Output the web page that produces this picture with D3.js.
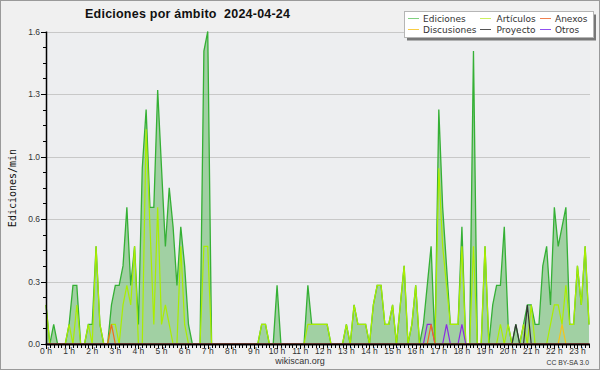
<!DOCTYPE html>
<html><head><meta charset="utf-8">
<script src="https://cdn.jsdelivr.net/npm/d3@7"></script>
<style>body{margin:0;background:#fff}svg{display:block}</style>
</head><body><svg id="c" width="600" height="370"></svg>
<script>
const title = "Ediciones por ámbito  2024-04-24";
const yTitle = "Ediciones/min";
const footerCenter = "wikiscan.org";
const footerRight = "CC BY-SA 3.0";
const binMinutes = 10;
const hourLabels = ["0 h","1 h","2 h","3 h","4 h","5 h","6 h","7 h","8 h","9 h","10 h","11 h","12 h","13 h","14 h","15 h","16 h","17 h","18 h","19 h","20 h","21 h","22 h","23 h"];
const yTickValues = [0, 0.32, 0.64, 0.96, 1.28, 1.6];
const yTickLabels = ["0.0","0.3","0.6","1.0","1.3","1.6"];
const seriesNames = ["Ediciones","Artículos","Anexos","Discusiones","Proyecto","Otros"];
const seriesColors = ["#35b035","#aaee00","#f26a1b","#f5c518","#333333","#8a2be2"];
const legendColors = ["#80d080","#ccf060","#f08050","#f8cc44","#555555","#9050f0"];

const ediciones = [0.2,0,0.1,0,0,0,0.1,0.3,0.3,0,
  0,0.1,0.1,0.5,0.1,0,0,0.2,0.3,0.3,
  0.4,0.7,0.3,0.5,0.1,0.9,1.2,0.7,0.7,1.3,
  0.9,0.5,0.8,0.6,0.3,0.6,0.4,0.1,0,0,
  0,1.5,1.6,0,0,0,0,0,0,0,
  0,0,0,0,0,0,0.1,0.1,0,0,
  0.3,0,0,0,0,0,0,0,0.3,0.1,
  0.1,0.1,0.1,0.1,0,0,0,0,0.1,0,
  0.2,0.1,0.1,0.1,0,0.2,0.3,0.3,0.1,0.1,
  0.2,0,0.2,0.4,0,0.1,0.3,0,0.1,0.3,
  0.5,0,1.2,0.7,0.4,0.1,0.1,0.1,0.6,0,
  0,1.5,0,0,0.5,0,0.2,0.3,0.3,0.6,
  0.1,0,0.1,0,0.1,0.2,0.2,0.1,0.1,0.4,
  0.5,0.2,0.7,0.5,0.6,0.7,0.1,0.1,0.4,0.2,
  0.5,0.1];
const articulos = [0.2,0,0,0,0,0,0.1,0,0.2,0,
  0,0.1,0,0.5,0.1,0,0,0.1,0.1,0,
  0.2,0.3,0.2,0.5,0,0,1.1,0.6,0.1,0.7,
  0.1,0.2,0.1,0,0,0.5,0.1,0,0,0,
  0,0.5,0.5,0,0,0,0,0,0,0,
  0,0,0,0,0,0,0.1,0.1,0,0,
  0,0,0,0,0,0,0,0,0.1,0.1,
  0.1,0.1,0.1,0.1,0,0,0,0,0.1,0,
  0.2,0.1,0.1,0.1,0,0.2,0.3,0.3,0.1,0.1,
  0.2,0,0.2,0.4,0,0.1,0.3,0,0,0,
  0,0,0.9,0.5,0.3,0.1,0.1,0.1,0.5,0,
  0,0.5,0,0,0.5,0,0,0,0.1,0,
  0.1,0,0,0,0.1,0,0.2,0,0,0,
  0,0.1,0.2,0.2,0.1,0.3,0.1,0.1,0.4,0.2,
  0.5,0.1];
const anexos = [0,0,0,0,0,0,0,0,0,0,
  0,0,0,0,0,0,0,0.1,0,0,
  0,0,0,0,0,0,0,0,0,0,
  0,0,0,0,0,0,0,0,0,0,
  0,0,0,0,0,0,0,0,0,0,
  0,0,0,0,0,0,0,0,0,0,
  0,0,0,0,0,0,0,0,0,0,
  0,0,0,0,0,0,0,0,0,0,
  0,0,0,0,0,0,0,0,0,0,
  0,0,0,0,0,0,0,0,0,0,
  0.1,0,0,0,0,0,0,0,0,0,
  0,0,0,0,0,0,0,0,0,0,
  0,0,0,0,0,0,0,0,0,0,
  0,0,0,0,0,0,0,0,0,0,
  0,0];
const discusiones = [0,0,0,0,0,0,0,0,0,0,
  0,0,0,0,0,0,0,0,0,0,
  0,0,0,0,0,0,0,0,0,0,
  0,0,0,0,0,0,0,0,0,0,
  0,0,0,0,0,0,0,0,0,0,
  0,0,0,0,0,0,0,0,0,0,
  0,0,0,0,0,0,0,0,0,0,
  0,0,0,0,0,0,0,0,0,0,
  0,0,0,0,0,0,0,0,0,0,
  0,0,0,0,0,0,0,0,0,0,
  0,0,0,0,0,0,0,0,0,0,
  0,0,0,0,0,0,0,0,0,0,
  0,0,0,0,0,0,0,0,0,0,
  0,0,0,0,0.1,0,0,0,0,0,
  0,0];
const proyecto = [0,0,0,0,0,0,0,0,0,0,
  0,0,0,0,0,0,0,0,0,0,
  0,0,0,0,0,0,0,0,0,0,
  0,0,0,0,0,0,0,0,0,0,
  0,0,0,0,0,0,0,0,0,0,
  0,0,0,0,0,0,0,0,0,0,
  0,0,0,0,0,0,0,0,0,0,
  0,0,0,0,0,0,0,0,0,0,
  0,0,0,0,0,0,0,0,0,0,
  0,0,0,0,0,0,0,0,0,0,
  0,0,0,0,0,0,0,0,0,0,
  0,0,0,0,0,0,0,0,0,0,
  0,0,0.1,0,0,0.2,0,0,0,0,
  0,0,0,0,0,0,0,0,0,0,
  0,0];
const otros = [0,0,0,0,0,0,0,0,0,0,
  0,0,0,0,0,0,0,0,0,0,
  0,0,0,0,0,0,0,0,0,0,
  0,0,0,0,0,0,0,0,0,0,
  0,0,0,0,0,0,0,0,0,0,
  0,0,0,0,0,0,0,0,0,0,
  0,0,0,0,0,0,0,0,0,0,
  0,0,0,0,0,0,0,0,0,0,
  0,0,0,0,0,0,0,0,0,0,
  0,0,0,0,0,0,0,0,0,0.1,
  0.1,0,0,0,0.1,0,0,0,0.1,0,
  0,0,0,0,0,0,0,0,0,0,
  0,0,0,0,0,0,0,0,0,0,
  0,0,0,0,0,0,0,0,0,0,
  0,0];

(function(){
const seriesData = [ediciones, articulos, anexos, discusiones, proyecto, otros];
const nBins = ediciones.length;

const svg = d3.select("#c");
const W = 600, H = 370;
const pL = 46, pR = 589, pT = 31.5, pB = 344;

const x = d3.scaleLinear().domain([0, (nBins - 1) * binMinutes]).range([pL, pR]);
const y = d3.scaleLinear().domain([0, 1.6]).range([pB, pT]);

svg.append("rect").attr("x",0.5).attr("y",0.5).attr("width",W-1).attr("height",H-1)
  .attr("fill","#f0f0f0").attr("stroke","#9a9a9a");
svg.append("rect").attr("x",pL).attr("y",pT).attr("width",590-pL).attr("height",pB-pT)
  .attr("fill","#edeef0");

svg.append("g").selectAll("line").data(yTickValues.slice(1)).join("line")
  .attr("x1",pL).attr("x2",590)
  .attr("y1",d=>Math.round(y(d))+0.5).attr("y2",d=>Math.round(y(d))+0.5)
  .attr("stroke","#c8c8c8").attr("stroke-width",1);

const pts = s => s.map((v,i)=>[i*binMinutes, v]);

svg.append("path").datum(pts(ediciones))
  .attr("d", d3.area().x(d=>x(d[0])).y0(y(0)).y1(d=>y(d[1])))
  .attr("fill","#44aa44").attr("fill-opacity",0.45);

const line = d3.line().x(d=>x(d[0])).y(d=>y(d[1]));
const drawOrder = [0,1,3,4,5,2];
drawOrder.forEach(k=>{
  svg.append("path").datum(pts(seriesData[k]))
    .attr("d", line).attr("fill","none")
    .attr("stroke", seriesColors[k]).attr("stroke-width", k===0?1.3:1.2)
    .attr("stroke-linejoin","miter");
});

const minorX = d3.range(0, nBins * binMinutes, binMinutes);
svg.append("g").selectAll("line").data(minorX).join("line")
  .attr("x1",d=>Math.round(x(d))+0.5).attr("x2",d=>Math.round(x(d))+0.5)
  .attr("y1",pB).attr("y2",d=> d%60===0 ? pB+5 : pB+4)
  .attr("stroke","#000").attr("stroke-width",1);
svg.append("line").attr("x1",pL-0.5).attr("x2",590).attr("y1",pB+0.5).attr("y2",pB+0.5)
  .attr("stroke","#000").attr("stroke-width",2);
svg.append("g").selectAll("text").data(hourLabels).join("text")
  .attr("x",(d,i)=>x(i*60)).attr("y",354)
  .attr("text-anchor","middle")
  .attr("font-family","Liberation Sans, Arial, sans-serif").attr("font-size",8.5)
  .attr("fill","#333").text(d=>d);

const minorY = d3.range(0, 21).map(i=>i*0.08);
svg.append("g").selectAll("line").data(minorY).join("line")
  .attr("x1",(d,i)=> i%4===0 ? pL-5 : pL-3).attr("x2",pL)
  .attr("y1",d=>Math.round(y(d))+0.5).attr("y2",d=>Math.round(y(d))+0.5)
  .attr("stroke","#000").attr("stroke-width",1);
svg.append("line").attr("x1",pL+0.5).attr("x2",pL+0.5).attr("y1",pT).attr("y2",pB+1)
  .attr("stroke","#000").attr("stroke-width",1.5);
svg.append("g").selectAll("text").data(yTickValues).join("text")
  .attr("x",40).attr("y",d=>y(d)+3)
  .attr("text-anchor","end")
  .attr("font-family","Liberation Sans, Arial, sans-serif").attr("font-size",8.5)
  .attr("fill","#333").text((d,i)=>yTickLabels[i]);

svg.append("text").attr("transform","translate(15.5,188) rotate(-90)")
  .attr("text-anchor","middle")
  .attr("font-family","DejaVu Sans Mono, monospace").attr("font-size",10)
  .attr("fill","#111").text(yTitle);

svg.append("text").attr("x",85).attr("y",18)
  .attr("font-family","Liberation Sans, Arial, sans-serif").attr("font-weight","bold")
  .attr("font-size",12.5).attr("fill","#111")
  .attr("textLength",205).attr("lengthAdjust","spacing")
  .style("white-space","pre").text(title);

svg.append("text").attr("x",300).attr("y",364).attr("text-anchor","middle")
  .attr("font-family","Liberation Sans, Arial, sans-serif").attr("font-size",9)
  .attr("fill","#333").text(footerCenter);
svg.append("text").attr("x",589).attr("y",364.5).attr("text-anchor","end")
  .attr("font-family","Liberation Sans, Arial, sans-serif").attr("font-size",6.8)
  .attr("fill","#333").text(footerRight);

const lg = svg.append("g");
lg.append("rect").attr("x",407).attr("y",14.5).attr("width",189).attr("height",26).attr("fill","#777");
lg.append("rect").attr("x",404.5).attr("y",11.5).attr("width",189).attr("height",26)
  .attr("fill","#fff").attr("stroke","#b5b5b5");
const colLineX = [408, 480, 540];
const colTextX = [423, 496.5, 555];
const rowY = [19, 30];
seriesNames.forEach((name,k)=>{
  const c = k % 3, r = Math.floor(k / 3);
  lg.append("line").attr("x1",colLineX[c]).attr("x2",colLineX[c]+11)
    .attr("y1",rowY[r]-0.5).attr("y2",rowY[r]-0.5)
    .attr("stroke",legendColors[k]).attr("stroke-width",1);
  lg.append("text").attr("x",colTextX[c]).attr("y",rowY[r]+3)
    .attr("font-family","DejaVu Sans, sans-serif").attr("font-size",9)
    .attr("fill","#333").text(name);
});
})();
</script></body></html>
